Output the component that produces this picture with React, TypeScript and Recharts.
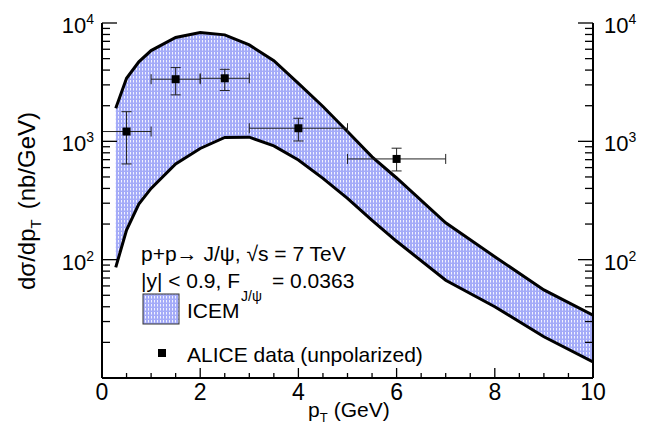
import { ComposedChart, Area, Line, Scatter, ErrorBar, XAxis, YAxis } from 'recharts';

// ICEM band (nb/GeV) vs pT (GeV)
const PT = [0.28, 0.5, 0.75, 1, 1.5, 2, 2.5, 3, 3.5, 4, 4.5, 5, 5.5, 6, 7, 8, 9, 10];
const ICEM_LOW = [86, 178, 295, 400, 645, 870, 1080, 1084, 914, 696, 487, 330, 215, 143, 67, 40, 22.3, 13.7];
const ICEM_HIGH = [1905, 3410, 4700, 5850, 7550, 8300, 7940, 6530, 4800, 3090, 1970, 1210, 740, 490, 205, 106, 55.5, 34];

// ALICE points
const ALICE_PT = [0.5, 1.5, 2.5, 4, 6];
const ALICE_PT_ERR = [0.5, 0.5, 0.5, 1, 1];
const ALICE_Y = [1210, 3350, 3410, 1290, 710];
const ALICE_ERR_DOWN = [566, 880, 720, 283, 148];
const ALICE_ERR_UP = [570, 850, 650, 277, 165];

const X_TICKS = [0, 0.5, 1, 1.5, 2, 2.5, 3, 3.5, 4, 4.5, 5, 5.5, 6, 6.5, 7, 7.5, 8, 8.5, 9, 9.5, 10];
const X_LABELS = [0, 2, 4, 6, 8, 10];
const Y_TICKS = [20, 30, 40, 50, 60, 70, 80, 90, 100, 200, 300, 400, 500, 600, 700, 800, 900,
  1000, 2000, 3000, 4000, 5000, 6000, 7000, 8000, 9000, 10000];
const Y_LABELS = [100, 1000, 10000];

const band = PT.map((x, i) => ({ x, lo: ICEM_LOW[i], hi: ICEM_HIGH[i], range: [ICEM_LOW[i], ICEM_HIGH[i]] }));
const alice = ALICE_PT.map((x, i) => ({
  x,
  y: ALICE_Y[i],
  ex: [ALICE_PT_ERR[i], ALICE_PT_ERR[i]],
  ey: [ALICE_ERR_DOWN[i], ALICE_ERR_UP[i]],
}));

const FONT = '"Liberation Sans", Arial, sans-serif';

const Pattern = ({ id }) => (
  <pattern id={id} width="3" height="4" patternUnits="userSpaceOnUse">
    <rect width="3" height="4" fill="#a4abf8" />
    <line x1="1.5" y1="0" x2="1.5" y2="2.5" stroke="#ffffff" strokeWidth="1" opacity="0.85" />
  </pattern>
);

const BottomTick = ({ x, y, payload }) => {
  const major = X_LABELS.includes(payload.value);
  return (
    <g>
      <line x1={x} x2={x} y1={y} y2={y - (major ? 10 : 5)} stroke="#000" strokeWidth={1.3} />
      {major && (
        <text x={x} y={y + 22} textAnchor="middle" fontSize={23} fontFamily={FONT} fill="#000">
          {payload.value}
        </text>
      )}
    </g>
  );
};

const yTick = (side) => ({ x, y, payload }) => {
  const v = payload.value;
  const major = Y_LABELS.includes(v);
  const len = major ? 15 : 8;
  const dir = side === 'left' ? 1 : -1;
  return (
    <g>
      <line x1={x} x2={x + dir * len} y1={y} y2={y} stroke="#000" strokeWidth={1.3} />
      {major && (
        <text
          x={side === 'left' ? x - 8 : x + 11}
          y={y + 10}
          textAnchor={side === 'left' ? 'end' : 'start'}
          fontSize={22}
          fontFamily={FONT}
          fill="#000"
        >
          10<tspan fontSize={14} dy={-9}>{Math.round(Math.log10(v))}</tspan>
        </text>
      )}
    </g>
  );
};

const Square = (props) => (
  <rect x={props.cx - 4} y={props.cy - 4} width={8} height={8} fill="#000" />
);

export default function App() {
  return (
    <div style={{ position: 'absolute', left: 0, top: 0, width: 650, height: 436, background: '#fff' }}>
      <ComposedChart width={650} height={436} margin={{ top: 23, right: 0, bottom: 0, left: 0 }}>
        <defs>
          <Pattern id="icemFill" />
        </defs>
        <XAxis
          dataKey="x"
          type="number"
          domain={[0, 10]}
          ticks={X_TICKS}
          interval={0}
          height={58}
          tickSize={0}
          tickMargin={0}
          tick={BottomTick}
          axisLine={{ stroke: '#000', strokeWidth: 2 }}
          allowDataOverflow
        />
        <XAxis
          xAxisId="top"
          orientation="top"
          type="number"
          domain={[0, 10]}
          height={0}
          tick={false}
          tickLine={false}
          axisLine={{ stroke: '#000', strokeWidth: 2 }}
        />
        <YAxis
          scale="log"
          type="number"
          domain={[10, 10000]}
          ticks={Y_TICKS}
          interval={0}
          width={102}
          tickSize={0}
          tickMargin={0}
          tick={yTick('left')}
          axisLine={{ stroke: '#000', strokeWidth: 2 }}
          allowDataOverflow
        />
        <YAxis
          yAxisId="right"
          orientation="right"
          scale="log"
          type="number"
          domain={[10, 10000]}
          ticks={Y_TICKS}
          interval={0}
          width={57}
          tickSize={0}
          tickMargin={0}
          tick={yTick('right')}
          axisLine={{ stroke: '#000', strokeWidth: 2 }}
          allowDataOverflow
        />
        <Area
          data={band}
          dataKey="range"
          type="linear"
          fill="url(#icemFill)"
          fillOpacity={1}
          stroke="none"
          isAnimationActive={false}
        />
        <Line data={band} dataKey="hi" type="linear" stroke="#000" strokeWidth={3} dot={false} isAnimationActive={false} />
        <Line data={band} dataKey="lo" type="linear" stroke="#000" strokeWidth={3} dot={false} isAnimationActive={false} />
        <Line yAxisId="right" data={band} dataKey="hi" stroke="none" dot={false} isAnimationActive={false} legendType="none" />
        <Scatter data={alice} dataKey="y" shape={Square} isAnimationActive={false}>
          <ErrorBar dataKey="ex" direction="x" width={5} stroke="#222" strokeWidth={1} />
          <ErrorBar dataKey="ey" direction="y" width={5} stroke="#222" strokeWidth={1} />
        </Scatter>
      </ComposedChart>

      <svg
        width={650}
        height={436}
        style={{ position: 'absolute', left: 0, top: 0, pointerEvents: 'none' }}
        fontFamily={FONT}
      >
        <defs>
          <Pattern id="icemLegend" />
        </defs>
        <text transform="translate(35,201) rotate(-90)" textAnchor="middle" fontSize={24} fill="#000">
          dσ/dp<tspan fontSize={15} dy={6}>T</tspan>
          <tspan dy={-6} dx={10}>(nb/GeV)</tspan>
        </text>
        <text x={308} y={417} fontSize={21} fill="#000">
          p<tspan fontSize={13} dy={5}>T</tspan>
          <tspan dy={-5} dx={6}>(GeV)</tspan>
        </text>

        <text x={141} y={261} fontSize={21} fill="#000">p+p→ J/ψ, √s = 7 TeV</text>
        <text x={141} y={288} fontSize={21} fill="#000">|y| &lt; 0.9, F</text>
        <text x={241} y={301} fontSize={14} fill="#000">J/ψ</text>
        <text x={272} y={288} fontSize={21} fill="#000">= 0.0363</text>
        <rect x={143} y={294} width={36} height={30} fill="url(#icemLegend)" stroke="#333" strokeWidth={1} />
        <text x={187} y={318} fontSize={21} fill="#000">ICEM</text>
        <rect x={158} y={349} width={8} height={8} fill="#000" />
        <text x={187} y={362} fontSize={21} fill="#000">ALICE data (unpolarized)</text>
      </svg>
    </div>
  );
}
